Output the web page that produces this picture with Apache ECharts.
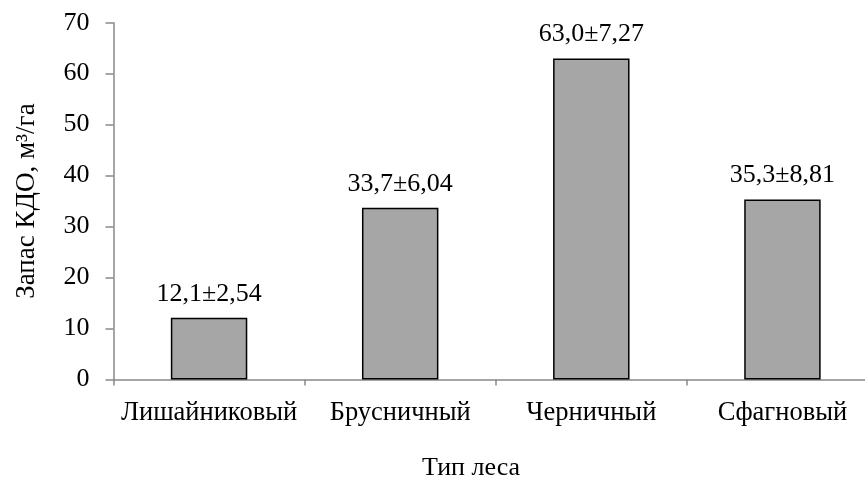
<!DOCTYPE html>
<html>
<head>
<meta charset="utf-8">
<script src="https://cdn.jsdelivr.net/npm/echarts@6/dist/echarts.min.js"></script>
<style>
  html, body { margin: 0; padding: 0; background: #ffffff; overflow: hidden; }
  /* the plot area runs slightly past the right edge of the window */
  #chart { width: 878px; height: 480px; }
</style>
</head>
<body>
<div id="chart"></div>
<script>
// Forest types and mean deadwood stock (m³/ha) with standard error
const forestTypes = ['Лишайниковый', 'Брусничный', 'Черничный', 'Сфагновый'];
const stockMean = [12.1, 33.7, 63.0, 35.3];
const stockError = [2.54, 6.04, 7.27, 8.81];
const yTicks = [0, 10, 20, 30, 40, 50, 60, 70];

const FONT = '"Liberation Serif", "Times New Roman", serif';
const AXIS_GRAY = '#898989';

function fmt(v, digits) {
  return v.toFixed(digits).replace('.', ',');
}

const chart = echarts.init(document.getElementById('chart'), null, { renderer: 'canvas' });

chart.setOption({
  backgroundColor: '#ffffff',
  animation: false,
  grid: { left: 113.5, top: 22.7, bottom: 100.5, right: 0, containLabel: false },
  xAxis: {
    type: 'category',
    data: forestTypes,
    axisLine: { show: true, lineStyle: { color: AXIS_GRAY, width: 1.5 } },
    axisTick: { show: true, alignWithLabel: false, length: 6, lineStyle: { color: AXIS_GRAY, width: 1.5 } },
    axisLabel: { interval: 0, color: '#000', fontFamily: FONT, fontSize: 26.5, margin: 20 },
    splitLine: { show: false }
  },
  yAxis: {
    type: 'value',
    min: yTicks[0],
    max: yTicks[yTicks.length - 1],
    interval: yTicks[1] - yTicks[0],
    name: 'Запас КДО, м³/га',
    nameLocation: 'middle',
    nameGap: 73,
    nameTextStyle: { color: '#000', fontFamily: FONT, fontSize: 27 },
    axisLine: { show: true, lineStyle: { color: AXIS_GRAY, width: 1.5 } },
    axisTick: { show: true, inside: false, length: 8, lineStyle: { color: AXIS_GRAY, width: 1.5 } },
    axisLabel: { color: '#000', fontFamily: FONT, fontSize: 26, margin: 24 },
    splitLine: { show: false }
  },
  series: [{
    type: 'bar',
    data: stockMean,
    barWidth: '40%',
    itemStyle: { color: '#a6a6a6', borderColor: '#000', borderWidth: 1.5 },
    label: {
      show: true,
      position: 'top',
      distance: 11,
      color: '#000',
      fontFamily: FONT,
      fontSize: 26,
      formatter: p => fmt(stockMean[p.dataIndex], 1) + '±' + fmt(stockError[p.dataIndex], 2)
    }
  }],
  graphic: [{
    type: 'text',
    x: 471,
    y: 468,
    style: {
      text: 'Тип леса',
      fill: '#000',
      font: '26px ' + FONT,
      textAlign: 'center',
      textVerticalAlign: 'middle'
    }
  }]
});
</script>
</body>
</html>
